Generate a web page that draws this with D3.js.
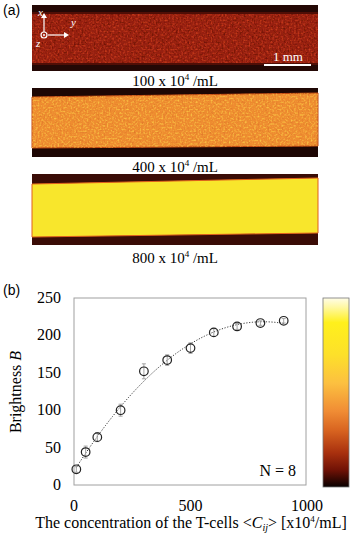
<!DOCTYPE html>
<html>
<head>
<meta charset="utf-8">
<script src="https://cdn.jsdelivr.net/npm/d3@7"></script>
<style>
  body { margin: 0; background: #fff; }
  svg text { font-family: "Liberation Serif", "Times New Roman", Times, serif; }
</style>
</head>
<body>
<script>
// data
let conc = [10, 50, 100, 200, 300, 400, 500, 600, 700, 800, 900];
let brightness = [21, 44, 64, 100, 152, 167, 183, 204, 212, 216.5, 219.5];
let errs = [4, 8, 6, 8, 10, 7, 7, 5, 4, 3, 3];
let xTicks = [0, 500, 1000];
let yTicks = [0, 50, 100, 150, 200, 250];
let panelLabels = ["100", "400", "800"];

let W = 350, H = 536;
let svg = d3.select("body").append("svg")
  .attr("width", W).attr("height", H)
  .attr("font-family", "Liberation Serif, serif");

let defs = svg.append("defs");

// speckle filters for the microscope pictures
function speckle(id, color, freq, seed, k, b) {
  let f = defs.append("filter").attr("id", id)
    .attr("x", 0).attr("y", 0).attr("width", 1).attr("height", 1);
  f.append("feTurbulence").attr("type", "fractalNoise")
    .attr("baseFrequency", freq).attr("numOctaves", 1).attr("seed", seed).attr("result", "n");
  f.append("feColorMatrix").attr("in", "n").attr("type", "matrix")
    .attr("values", "0 0 0 0 0  0 0 0 0 0  0 0 0 0 0  " + k + " 0 0 0 " + b).attr("result", "a");
  f.append("feFlood").attr("flood-color", color);
  f.append("feComposite").attr("in2", "a").attr("operator", "in");
}
speckle("sp1", "#cc3c1c", 0.55, 3, 3, -1.45);
speckle("sp1b", "#6a1208", 0.5, 7, 3, -1.5);
speckle("sp2", "#fac444", 0.55, 5, 3, -1.45);
speckle("sp2b", "#e07a2a", 0.5, 9, 3, -1.5);

// ---------- (a) ----------
svg.append("text").attr("x", 3).attr("y", 15)
  .style("font-family", "Liberation Sans, Arial, sans-serif")
  .attr("font-size", 14).text("(a)");

let px0 = 32, px1 = 318;

// panel 1
let g1 = svg.append("g");
g1.append("rect").attr("x", px0).attr("y", 5).attr("width", px1 - px0).attr("height", 66).attr("fill", "#240805");
g1.append("rect").attr("x", px0).attr("y", 12).attr("width", px1 - px0).attr("height", 53).attr("fill", "#5a1006").attr("opacity", 0.8);
g1.append("rect").attr("x", px0).attr("y", 14).attr("width", px1 - px0).attr("height", 49).attr("fill", "#962010");
g1.append("rect").attr("x", px0).attr("y", 14).attr("width", px1 - px0).attr("height", 49).attr("filter", "url(#sp1b)");
g1.append("rect").attr("x", px0).attr("y", 14).attr("width", px1 - px0).attr("height", 49).attr("filter", "url(#sp1)");

// axes icon
let ic = g1.append("g").attr("stroke", "#fff").attr("fill", "#fff");
ic.append("line").attr("x1", 44).attr("y1", 32).attr("x2", 44).attr("y2", 17).attr("stroke-width", 1.2);
ic.append("path").attr("d", "M41,18 L44,13 L47,18 Z").attr("stroke", "none");
ic.append("line").attr("x1", 48).attr("y1", 35).attr("x2", 65).attr("y2", 35).attr("stroke-width", 1.2);
ic.append("path").attr("d", "M64,32 L69,35 L64,38 Z").attr("stroke", "none");
ic.append("circle").attr("cx", 44).attr("cy", 35).attr("r", 3).attr("fill", "none").attr("stroke-width", 1.2);
ic.append("circle").attr("cx", 44).attr("cy", 35).attr("r", 1).attr("stroke", "none");
g1.append("text").attr("x", 38).attr("y", 16).attr("fill", "#fff").attr("font-size", 11).attr("font-style", "italic").text("x");
g1.append("text").attr("x", 71).attr("y", 26).attr("fill", "#fff").attr("font-size", 11).attr("font-style", "italic").text("y");
g1.append("text").attr("x", 36).attr("y", 47).attr("fill", "#fff").attr("font-size", 11).attr("font-style", "italic").text("z");
// scale bar
g1.append("line").attr("x1", 264).attr("x2", 311).attr("y1", 65).attr("y2", 65).attr("stroke", "#fff").attr("stroke-width", 2);
g1.append("text").attr("x", 288).attr("y", 61).attr("text-anchor", "middle").attr("fill", "#fff").attr("font-size", 13).text("1 mm");

// panel 2
let g2 = svg.append("g");
g2.append("rect").attr("x", px0).attr("y", 88).attr("width", px1 - px0).attr("height", 69).attr("fill", "#1e0704");
let poly2 = [[px0, 97], [px1, 93], [px1, 146], [px0, 148]];
defs.append("clipPath").attr("id", "c2").append("polygon").attr("points", poly2.join(" "));
g2.append("polygon").attr("points", poly2.join(" ")).attr("fill", "#ee8c30")
  .attr("stroke", "#c04a14").attr("stroke-width", 1);
g2.append("rect").attr("x", px0).attr("y", 88).attr("width", px1 - px0).attr("height", 69)
  .attr("clip-path", "url(#c2)").attr("filter", "url(#sp2b)");
g2.append("rect").attr("x", px0).attr("y", 88).attr("width", px1 - px0).attr("height", 69)
  .attr("clip-path", "url(#c2)").attr("filter", "url(#sp2)");

// panel 3
let g3 = svg.append("g");
g3.append("rect").attr("x", px0).attr("y", 174).attr("width", px1 - px0).attr("height", 71).attr("fill", "#3a0c06");
let poly3 = [[px0, 184], [px1, 178], [px1, 233], [px0, 237]];
g3.append("polygon").attr("points", poly3.join(" ")).attr("fill", "#f8e62c")
  .attr("stroke", "#e0601c").attr("stroke-width", 1);

// panel captions
let capY = [86, 172, 263];
panelLabels.forEach(function(t, i) {
  let tx = svg.append("text").attr("x", 175).attr("y", capY[i])
    .attr("text-anchor", "middle").attr("font-size", 15);
  tx.append("tspan").text(t + " x 10");
  tx.append("tspan").attr("font-size", 9).attr("dy", -6).text("4");
  tx.append("tspan").attr("dy", 6).text(" /mL");
});

// ---------- (b) ----------
svg.append("text").attr("x", 3).attr("y", 295)
  .style("font-family", "Liberation Sans, Arial, sans-serif")
  .attr("font-size", 14).text("(b)");

let margin = {top: 298, left: 74, right: 306, bottom: 485};
let x = d3.scaleLinear().domain([0, 1000]).range([margin.left, margin.right + 1]);
let y = d3.scaleLinear().domain([0, 250]).range([margin.bottom, margin.top]);

svg.append("rect").attr("x", margin.left).attr("y", margin.top)
  .attr("width", margin.right - margin.left).attr("height", margin.bottom - margin.top)
  .attr("fill", "none").attr("stroke", "#a0a0a0").attr("stroke-width", 1);

svg.selectAll(".yt").data(yTicks).enter().append("text")
  .attr("x", 61).attr("y", d => y(d) + 5)
  .attr("text-anchor", "end").attr("font-size", 16).text(d => d);
svg.selectAll(".xt").data(xTicks).enter().append("text")
  .attr("x", d => x(d)).attr("y", 511)
  .attr("text-anchor", "middle").attr("font-size", 16).text(d => d);

// quadratic trend line (least squares on the points)
let n = conc.length, S = [0, 0, 0, 0, 0], T = [0, 0, 0];
conc.forEach(function(c, i) {
  for (let k = 0; k < 5; k++) S[k] += Math.pow(c, k);
  for (let k = 0; k < 3; k++) T[k] += Math.pow(c, k) * brightness[i];
});
let M = [[S[0], S[1], S[2], T[0]], [S[1], S[2], S[3], T[1]], [S[2], S[3], S[4], T[2]]];
for (let i = 0; i < 3; i++) {
  for (let j = i + 1; j < 3; j++) {
    let f = M[j][i] / M[i][i];
    for (let k = i; k < 4; k++) M[j][k] -= f * M[i][k];
  }
}
let coef = [0, 0, 0];
for (let i = 2; i >= 0; i--) {
  let s = M[i][3];
  for (let k = i + 1; k < 3; k++) s -= M[i][k] * coef[k];
  coef[i] = s / M[i][i];
}
let fitX = d3.range(conc[0], conc[n - 1] + 1, 5);
let fitline = d3.line()
  .x(d => x(d))
  .y(d => y(coef[0] + coef[1] * d + coef[2] * d * d));
svg.append("path").datum(fitX).attr("d", fitline)
  .attr("fill", "none").attr("stroke", "#333").attr("stroke-width", 1)
  .attr("stroke-dasharray", "1.2,1.6");

// error bars
let eb = svg.append("g").attr("stroke", "#999").attr("stroke-width", 0.9);
conc.forEach(function(c, i) {
  let cx = x(c);
  eb.append("line").attr("x1", cx).attr("x2", cx).attr("y1", y(brightness[i] - errs[i])).attr("y2", y(brightness[i] + errs[i]));
  eb.append("line").attr("x1", cx - 2).attr("x2", cx + 2).attr("y1", y(brightness[i] - errs[i])).attr("y2", y(brightness[i] - errs[i]));
  eb.append("line").attr("x1", cx - 2).attr("x2", cx + 2).attr("y1", y(brightness[i] + errs[i])).attr("y2", y(brightness[i] + errs[i]));
});

svg.selectAll(".pt").data(conc).enter().append("circle")
  .attr("cx", d => x(d)).attr("cy", (d, i) => y(brightness[i]))
  .attr("r", 4.3).attr("fill", "none").attr("stroke", "#222").attr("stroke-width", 1.2);

svg.append("text").attr("x", 296).attr("y", 476).attr("text-anchor", "end")
  .attr("font-size", 16).text("N = 8");

// axis titles
let yl = svg.append("text").attr("transform", "translate(21,392) rotate(-90)")
  .attr("text-anchor", "middle").attr("font-size", 16);
yl.append("tspan").text("Brightness ");
yl.append("tspan").attr("font-style", "italic").text("B");

let xl = svg.append("text").attr("x", 191).attr("y", 528)
  .attr("text-anchor", "middle").attr("font-size", 16);
xl.append("tspan").text("The concentration of the T-cells <");
xl.append("tspan").attr("font-style", "italic").text("C");
xl.append("tspan").attr("font-style", "italic").attr("font-size", 10).attr("dy", 3).text("ij");
xl.append("tspan").attr("dy", -3).text("> [x10");
xl.append("tspan").attr("font-size", 9).attr("dy", -6).text("4");
xl.append("tspan").attr("dy", 6).text("/mL]");

// colour bar
let grad = defs.append("linearGradient").attr("id", "cb")
  .attr("x1", 0).attr("y1", 0).attr("x2", 0).attr("y2", 1);
[[0, "#fffde8"], [0.05, "#fff8a0"], [0.13, "#fff01c"], [0.3, "#fde02a"], [0.45, "#fcc040"],
 [0.6, "#f08c34"], [0.7, "#d86420"], [0.82, "#a8300e"], [0.91, "#701206"], [1, "#080000"]]
  .forEach(function(s) { grad.append("stop").attr("offset", s[0]).attr("stop-color", s[1]); });
svg.append("rect").attr("x", 323).attr("y", 298).attr("width", 26).attr("height", 189)
  .attr("fill", "url(#cb)").attr("stroke", "#777").attr("stroke-width", 0.8);
</script>
</body>
</html>
